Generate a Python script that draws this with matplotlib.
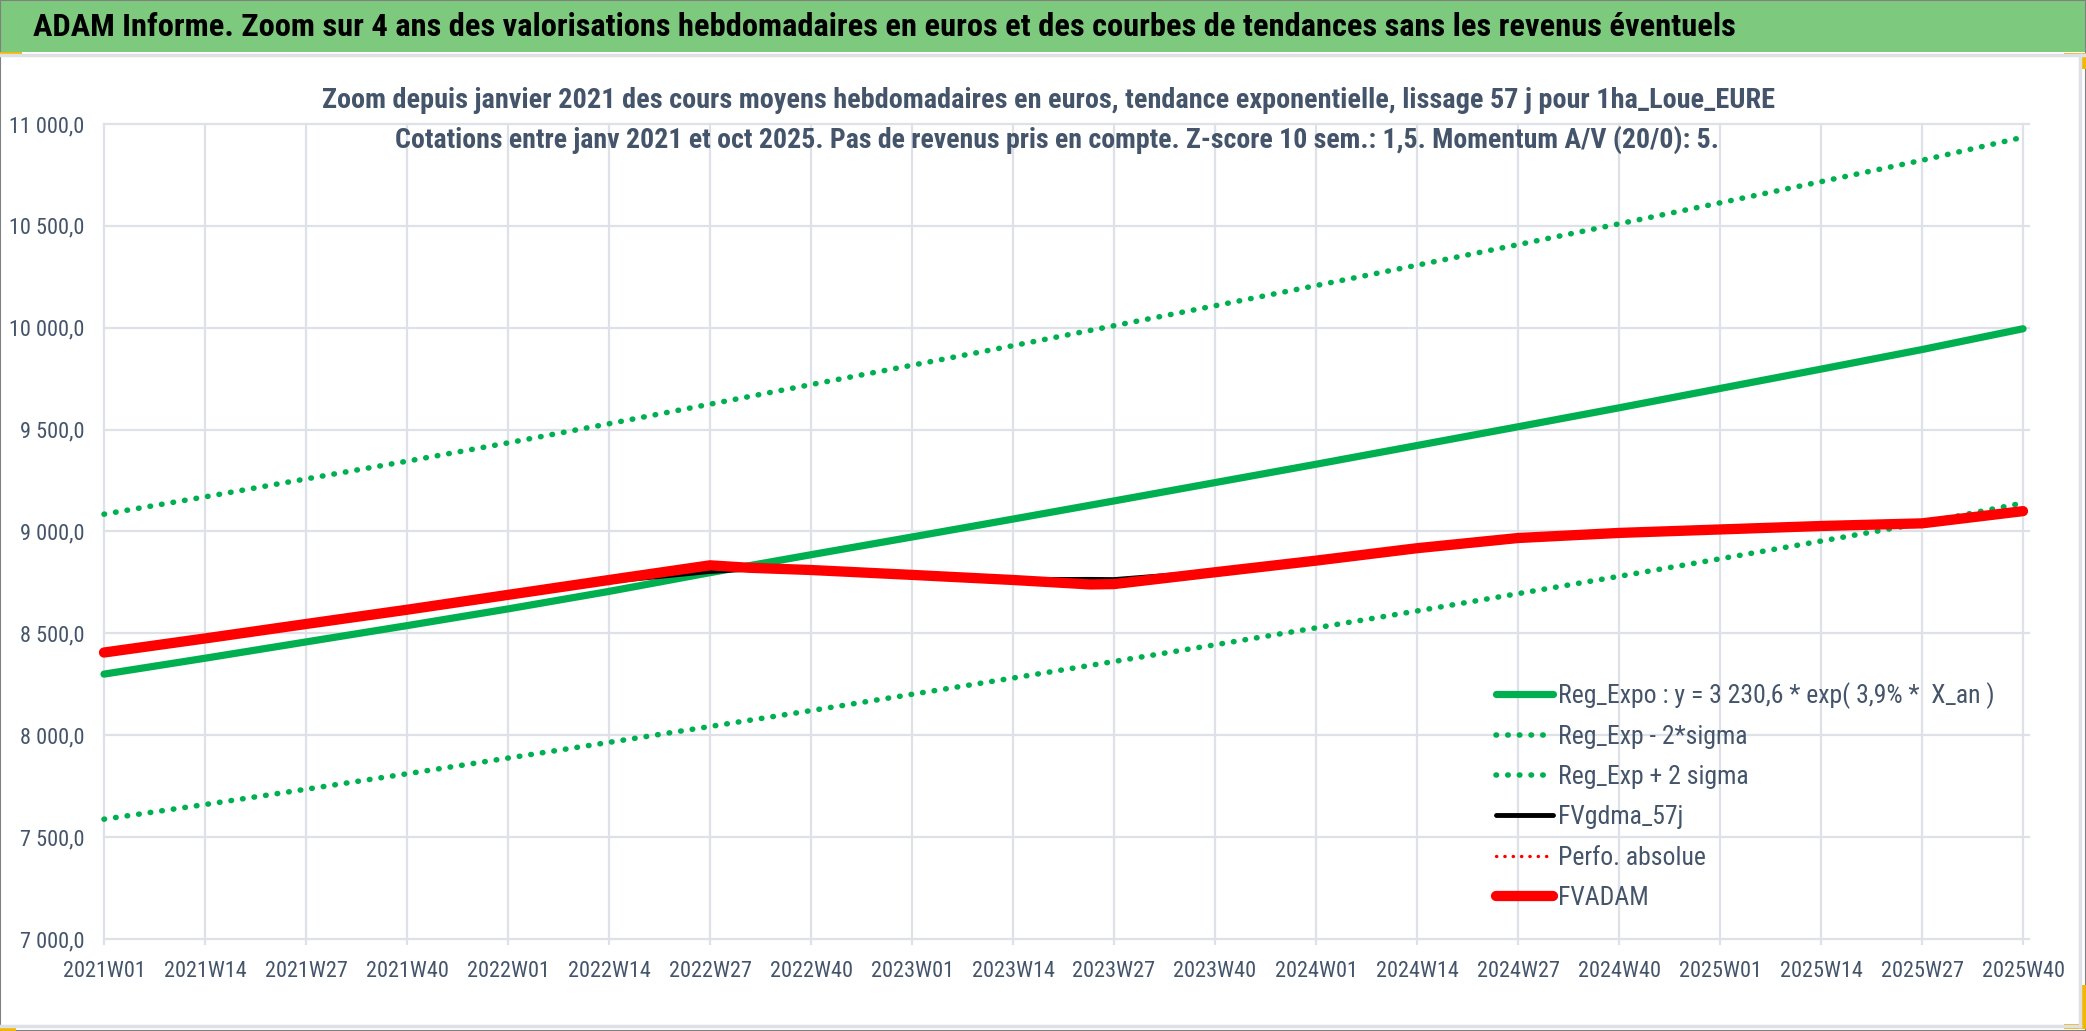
import matplotlib
matplotlib.use("Agg")
import matplotlib.pyplot as plt
from matplotlib.patches import Rectangle
from matplotlib.lines import Line2D
from matplotlib import font_manager

W, H = 2086, 1031
names = {f.name for f in font_manager.fontManager.ttflist}
cands = ['Roboto Condensed', 'Liberation Sans Narrow', 'Open Sans Condensed',
         'Liberation Sans', 'DejaVu Sans']
FONT = [c for c in cands if c in names] + ['DejaVu Sans']
plt.rcParams['font.family'] = FONT

# Catégories hebdomadaires (axe X)
weeks = [f"{y}W{w:02d}" for y in range(2021, 2026) for w in range(1, 53)][:248]
tick_weeks = weeks[::13]

# Régression exponentielle et bandes +/- 2 sigma (lues aux graduations)
reg_expo = [8300, 8378, 8458, 8538, 8620, 8706, 8798, 8886, 8973, 9061,
            9150, 9240, 9330, 9422, 9514, 9607, 9702, 9797, 9893, 9995]
reg_minus = [7588, 7660, 7735, 7811, 7888, 7965, 8043, 8121, 8201, 8281,
             8362, 8444, 8527, 8610, 8695, 8780, 8866, 8953, 9041, 9140]
reg_plus = [9085, 9170, 9258, 9345, 9435, 9529, 9625, 9721, 9816, 9912,
            10010, 10108, 10207, 10307, 10408, 10510, 10613, 10717, 10822, 10935]

# Valorisations
adam_weeks = ["2021W01", "2021W14", "2021W27", "2021W40", "2022W01", "2022W14",
              "2022W27", "2022W32", "2022W40", "2023W01", "2023W14", "2023W24",
              "2023W27", "2023W40", "2024W01", "2024W14", "2024W27", "2024W40",
              "2025W01", "2025W14", "2025W27", "2025W40"]
fvadam = [8406, 8475, 8546, 8616, 8689, 8762, 8834, 8822, 8811, 8787, 8762,
          8740, 8742, 8800, 8857, 8918, 8968, 8993, 9010, 9027, 9040, 9100]
fvgdma = [8406, 8475, 8546, 8616, 8689, 8755, 8804, 8815, 8808, 8785, 8764,
          8765, 8764, 8803, 8857, 8918, 8975, 8993, 9010, 9027, 9048, 9100]
perfo_abs = [8406, 8475, 8546, 8616, 8689, 8762, 8834, 8822, 8811, 8787, 8762,
             8740, 8742, 8800, 8857, 8918, 8968, 8993, 9010, 9027, 9040, 9100]

labels = ["Reg_Expo : y = 3 230,6 * exp( 3,9% *  X_an )", "Reg_Exp - 2*sigma",
          "Reg_Exp + 2 sigma", "FVgdma_57j", "Perfo. absolue", "FVADAM"]

title = ("ADAM Informe. Zoom sur 4 ans des valorisations hebdomadaires en euros "
         "et des courbes de tendances sans les revenus éventuels")
sub1 = ("Zoom depuis janvier 2021 des cours moyens hebdomadaires en euros, "
        "tendance exponentielle, lissage 57 j pour 1ha_Loue_EURE")
sub2 = ("Cotations entre janv 2021 et oct 2025. Pas de revenus pris en compte. "
        "Z-score 10 sem.: 1,5. Momentum A/V (20/0): 5.")

GREEN = '#00B050'
RED = '#FF0000'
GRID = '#DEE1E7'
TXT = '#44546A'

fig = plt.figure(figsize=(W / 100, H / 100), dpi=100)


def fx(x):
    return x / W


def fy(y):
    return 1 - y / H


# Bandeau titre et cadre
fig.patches.append(Rectangle((0, fy(52)), 1, 52 / H, transform=fig.transFigure,
                             facecolor='#7DC97D', edgecolor='none', zorder=0))
fig.add_artist(Line2D([0, 1], [fy(55), fy(55)], color='#DDE0E5', lw=2.5))
fig.add_artist(Line2D([fx(2080), fx(2080)], [fy(55), fy(1026)], color='#DDE0E5', lw=2.5))
fig.add_artist(Line2D([0, fx(2080)], [fy(1026), fy(1026)], color='#DDE0E5', lw=2.5))
fig.patches.append(Rectangle((0, 0), 1, 1, transform=fig.transFigure, fill=False,
                             edgecolor='#808080', lw=1.5))
# poignées jaunes
for (x0, y0, w, h) in [(0, 52, 22, 3), (2064, 53, 22, 3), (2080, 53, 6, 16),
                       (2064, 1024, 16, 5), (2080, 985, 6, 44), (0, 1027, 16, 4)]:
    fig.patches.append(Rectangle((fx(x0), fy(y0 + h)), w / W, h / H,
                                 transform=fig.transFigure, facecolor='#F2B705',
                                 edgecolor='none'))

t_title = fig.text(fx(33), fy(27), title, fontsize=22, fontweight='bold',
                   color='black', ha='left', va='center')
t_s1 = fig.text(fx(1048), fy(100), sub1, fontsize=17, fontweight='bold',
                color=TXT, ha='center', va='center')
t_s2 = fig.text(fx(1057), fy(140), sub2, fontsize=17, fontweight='bold',
                color=TXT, ha='center', va='center')

ax = fig.add_axes([fx(104), fy(939), (2029 - 104) / W, (939 - 124) / H])

pos = {wk: i for i, wk in enumerate(weeks)}
xt = [pos[w] for w in tick_weeks]
xa = [pos[w] for w in adam_weeks]

dot = (0, (0.1, 2.0))
ax.plot(xt, reg_expo, color=GREEN, lw=5.2, solid_capstyle='round', label=labels[0], clip_on=False)
ax.plot(xt, reg_minus, color=GREEN, lw=4, ls=dot, dash_capstyle='round', label=labels[1], clip_on=False)
ax.plot(xt, reg_plus, color=GREEN, lw=4, ls=dot, dash_capstyle='round', label=labels[2], clip_on=False)
ax.plot(xa, fvgdma, color='black', lw=3.5, solid_capstyle='round', label=labels[3], clip_on=False)
ax.plot(xa, perfo_abs, color=RED, lw=2.4, ls=(0, (0.1, 2.4)), dash_capstyle='round', label=labels[4], clip_on=False)
ax.plot(xa, fvadam, color=RED, lw=7.4, solid_capstyle='round', label=labels[5], clip_on=False)

ax.set_xlim(0, 247.77)
ax.set_ylim(7000, 11000)
ax.set_yticks(range(7000, 11001, 500))
ax.set_yticklabels([f"{v:,.1f}".replace(",", " ").replace(".", ",") for v in range(7000, 11001, 500)])
ax.set_xticks(xt)
ax.set_xticklabels(tick_weeks)
ax.grid(True, color=GRID, lw=1.6, clip_on=False)
ax.set_axisbelow(True)
for s in ax.spines.values():
    s.set_visible(False)
ax.tick_params(axis='y', length=0, pad=14, labelsize=16, labelcolor=TXT)
ax.tick_params(axis='x', length=4.5, width=1.6, color=GRID, pad=11, labelsize=16, labelcolor=TXT)

leg = ax.legend(loc='upper left', bbox_to_anchor=(fx(1496), fy(682)),
                bbox_transform=fig.transFigure, frameon=False, fontsize=18.5,
                handlelength=2.2, handletextpad=0.2, labelspacing=0.63,
                borderpad=0, borderaxespad=0)
for t in leg.get_texts():
    t.set_color(TXT)

# ajuster la largeur des titres
renderer = fig.canvas.get_renderer()
for t, target in [(t_title, 1700), (t_s1, 1457), (t_s2, 1325)]:
    for _ in range(2):
        wpx = t.get_window_extent(renderer).width
        t.set_fontsize(t.get_fontsize() * target / wpx)

fig.savefig("out.png", dpi=100)
